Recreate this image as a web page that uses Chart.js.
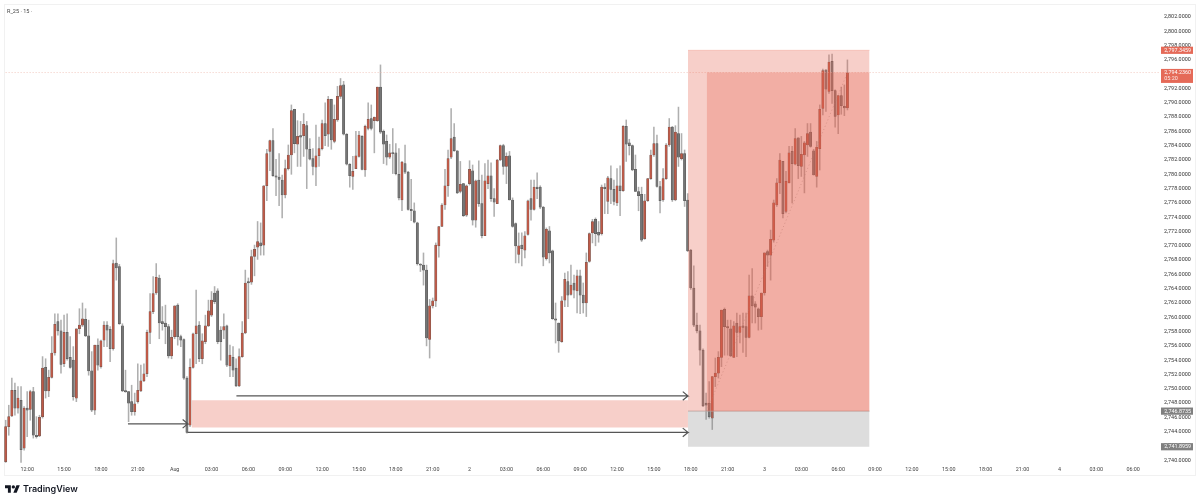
<!DOCTYPE html>
<html><head><meta charset="utf-8">
<style>
html,body{margin:0;padding:0;background:#fff;width:1200px;height:502px;overflow:hidden}
#chart{position:absolute;left:0;top:0;filter:blur(.3px)}
#frame{position:absolute;left:4px;top:4px;width:1190px;height:470px;border:1px solid #f1f1f1}
#title{position:absolute;left:7px;top:8px;font:5.5px Roboto,sans-serif;color:#444;filter:blur(.25px)}
#brand{position:absolute;left:5px;top:483px;display:flex;align-items:center;gap:3px;color:#131722;font:600 9px/12px Inter,sans-serif}
</style>
<script src="https://cdn.jsdelivr.net/npm/chart.js@4"></script>
</head><body>
<div id="frame"></div>
<canvas id="chart" width="1200" height="502"></canvas>
<div id="title">R_25 · 15 ·</div>
<div id="brand"><svg width="15" height="8" viewBox="0 4 36 18"><path fill="#131722" d="M14 22H7V11H0V4h14v18zM28 22h-8l7.5-18h8L28 22z"/><circle fill="#131722" cx="20" cy="8" r="4"/></svg><span>TradingView</span></div>
<script>
const opens=[2739.8,2744.7,2746.2,2749.8,2747.3,2748.4,2741.7,2747.3,2747.1,2749.6,
2743.5,2743.4,2746.1,2753.0,2749.7,2751.6,2755.0,2759.4,2758.1,2753.5,
2757.9,2754.4,2754.0,2748.7,2758.4,2758.9,2759.7,2757.4,2752.5,2747.0,
2756.1,2753.1,2756.8,2758.9,2758.3,2755.6,2767.6,2767.1,2758.8,2749.7,
2749.6,2748.2,2746.8,2748.2,2749.7,2751.1,2752.1,2757.9,2760.8,2763.4,
2765.5,2759.4,2759.2,2758.7,2754.6,2757.3,2761.7,2757.3,2756.9,2751.5,
2744.9,2753.0,2757.7,2758.9,2754.2,2756.6,2758.8,2760.3,2763.4,2763.7,
2758.2,2758.2,2758.8,2753.2,2754.4,2752.9,2750.4,2754.5,2757.8,2765.0,
2764.9,2768.5,2769.8,2770.4,2770.1,2778.4,2783.2,2784.7,2779.8,2779.6,
2779.2,2777.1,2780.8,2782.7,2789.1,2784.2,2785.4,2785.4,2786.8,2783.5,
2782.2,2781.0,2782.6,2783.6,2787.1,2785.6,2790.5,2784.6,2787.6,2790.9,
2792.5,2785.6,2781.4,2779.7,2780.8,2782.5,2785.3,2780.6,2786.4,2787.8,
2787.5,2787.5,2792.2,2786.0,2784.6,2782.4,2783.0,2783.0,2780.0,2776.4,
2781.5,2780.3,2775.1,2774.9,2773.2,2767.4,2767.3,2766.6,2756.9,2761.6,
2762.3,2770.0,2772.7,2775.7,2778.4,2782.4,2785.2,2783.3,2777.6,2778.7,
2774.3,2778.7,2780.5,2773.6,2779.2,2775.9,2771.4,2778.7,2779.8,2776.6,
2775.9,2782.0,2784.0,2781.1,2782.6,2776.4,2773.1,2768.8,2770.1,2769.4,
2771.6,2776.6,2775.1,2778.2,2778.2,2775.4,2768.2,2772.1,2769.3,2759.8,
2759.2,2756.6,2762.4,2765.0,2763.2,2764.8,2763.7,2765.8,2763.1,2762.0,
2767.8,2771.8,2773.7,2771.9,2771.7,2778.2,2776.2,2779.4,2777.9,2776.0,
2778.4,2777.7,2786.7,2784.4,2784.0,2780.7,2777.6,2777.2,2771.0,2776.3,
2779.4,2782.7,2784.3,2778.3,2776.4,2779.4,2784.1,2786.6,2776.4,2785.7,
2782.2,2782.9,2776.4,2769.4,2764.1,2758.9,2758.1,2755.4,2748.0,2748.0,
2745.9,2751.7,2752.2,2754.4,2761.1,2758.7,2758.4,2754.4,2759.2,2757.9,
2758.8,2758.7,2757.2,2763.0,2761.9,2761.2,2760.1,2763.4,2769.2,2768.7,
2770.8,2775.7,2778.8,2781.8,2774.8,2778.8,2783.2,2781.4,2785.1,2781.1,
2782.7,2784.1,2785.9,2783.3,2779.7,2783.6,2789.2,2794.6,2791.6,2795.8,
2791.7,2788.3,2791.0,2789.5,2789.3];
const highs=[2745.6,2747.7,2751.5,2750.8,2750.3,2750.3,2747.5,2749.6,2749.8,2750.2,
2746.1,2746.3,2754.5,2754.2,2752.6,2757.3,2760.5,2760.5,2759.6,2760.3,
2760.5,2757.3,2755.9,2758.4,2761.2,2762.0,2761.2,2759.6,2755.2,2756.1,
2757.0,2756.8,2759.4,2759.4,2758.7,2768.0,2771.1,2767.4,2759.1,2752.6,
2749.6,2750.5,2749.4,2753.5,2753.3,2753.5,2758.2,2763.3,2765.7,2767.5,
2765.9,2761.5,2761.7,2759.0,2758.2,2761.6,2761.9,2757.5,2757.0,2751.7,
2754.2,2757.8,2763.8,2759.4,2757.7,2760.3,2762.4,2763.6,2764.3,2764.0,
2758.7,2760.5,2758.9,2756.1,2755.9,2754.2,2755.6,2759.4,2766.6,2765.5,
2769.4,2770.1,2773.4,2773.2,2778.4,2783.5,2784.8,2786.4,2782.1,2782.9,
2779.9,2782.0,2784.1,2789.7,2789.1,2787.5,2787.4,2788.5,2787.4,2785.0,
2783.6,2786.9,2785.2,2787.6,2790.0,2790.9,2790.5,2789.7,2792.3,2793.4,
2793.0,2785.7,2781.5,2782.5,2786.0,2786.0,2785.4,2786.9,2790.0,2789.7,
2788.0,2792.2,2795.3,2786.2,2785.5,2784.2,2786.4,2784.3,2783.6,2781.8,
2784.1,2780.4,2779.3,2776.0,2773.3,2767.5,2769.0,2767.3,2762.5,2762.7,
2770.4,2772.7,2775.9,2780.7,2783.4,2789.2,2787.1,2783.3,2781.8,2778.7,
2778.5,2781.9,2781.3,2779.2,2781.9,2779.9,2781.5,2782.0,2781.6,2778.0,
2782.1,2784.1,2784.2,2783.0,2783.2,2776.7,2773.2,2771.8,2771.8,2772.0,
2776.4,2779.2,2779.2,2780.2,2778.4,2775.5,2772.5,2772.7,2769.4,2762.0,
2759.2,2762.9,2766.2,2766.4,2767.3,2765.9,2766.6,2766.6,2764.8,2769.0,
2771.8,2773.7,2773.9,2773.4,2778.5,2778.7,2779.7,2781.2,2779.2,2780.8,
2781.2,2786.8,2787.6,2784.9,2784.1,2782.7,2778.2,2778.2,2777.2,2779.4,
2783.4,2786.6,2785.5,2779.0,2780.8,2784.3,2787.8,2786.7,2786.8,2789.4,
2785.7,2783.4,2777.3,2769.5,2767.2,2760.6,2758.9,2755.6,2749.4,2751.0,
2751.7,2754.3,2755.2,2761.0,2761.3,2759.6,2759.6,2759.4,2760.6,2760.3,
2760.6,2760.6,2765.9,2766.8,2762.2,2761.3,2763.4,2769.0,2769.4,2772.2,
2776.4,2779.4,2782.9,2781.8,2780.4,2783.9,2783.9,2786.4,2785.1,2785.3,
2784.6,2787.1,2787.1,2783.5,2784.6,2789.7,2794.7,2794.6,2796.7,2796.8,
2791.8,2791.0,2792.2,2792.5,2796.0];
const lows=[2739.7,2743.5,2746.1,2746.3,2746.6,2739.7,2741.4,2743.3,2745.6,2743.1,
2743.1,2743.3,2745.9,2748.7,2748.9,2751.5,2754.7,2757.5,2752.2,2753.1,
2754.0,2752.9,2748.4,2748.2,2757.7,2758.7,2757.3,2751.9,2746.8,2746.4,
2752.6,2752.9,2755.9,2755.9,2753.8,2755.4,2765.2,2759.0,2749.6,2749.5,
2745.4,2746.3,2746.3,2748.0,2749.6,2751.0,2751.7,2756.3,2760.5,2763.2,
2757.0,2758.2,2756.3,2754.3,2754.2,2757.0,2756.1,2755.9,2751.3,2743.8,
2744.7,2752.9,2753.5,2753.8,2753.5,2756.3,2758.7,2760.1,2761.9,2756.3,
2754.0,2757.0,2753.1,2751.7,2751.7,2750.3,2750.3,2754.4,2757.7,2759.8,
2764.6,2765.8,2768.1,2768.7,2768.7,2776.3,2780.5,2779.7,2777.0,2775.6,
2773.9,2776.7,2780.6,2780.0,2783.0,2781.1,2781.1,2782.5,2778.0,2782.0,
2779.9,2778.4,2781.1,2783.4,2784.0,2783.9,2783.5,2784.4,2787.4,2790.6,
2785.5,2781.3,2778.2,2777.9,2780.8,2782.4,2780.6,2779.7,2786.2,2786.2,
2783.0,2787.4,2785.7,2781.5,2781.3,2782.2,2780.1,2779.9,2776.4,2774.9,
2780.1,2775.0,2773.5,2773.2,2767.3,2766.4,2764.5,2756.0,2754.3,2761.3,
2761.5,2768.4,2772.7,2775.1,2776.9,2782.2,2783.2,2777.3,2777.4,2774.1,
2774.1,2778.5,2772.9,2772.6,2775.5,2771.1,2771.4,2778.0,2776.2,2774.1,
2775.9,2781.9,2780.0,2778.7,2776.4,2772.6,2767.6,2767.6,2767.2,2768.3,
2771.5,2773.6,2775.0,2776.6,2775.2,2767.2,2768.0,2767.6,2759.7,2756.4,
2755.1,2756.5,2761.5,2761.5,2763.1,2762.7,2760.6,2760.5,2760.6,2760.1,
2767.7,2770.4,2770.0,2770.5,2771.5,2774.5,2774.5,2775.9,2775.7,2775.6,
2774.2,2777.6,2781.8,2782.7,2780.5,2777.6,2774.9,2770.6,2770.9,2776.2,
2779.3,2782.5,2778.2,2774.6,2776.2,2779.3,2783.9,2776.2,2776.3,2781.1,
2782.0,2775.5,2769.2,2763.9,2758.7,2757.8,2753.3,2747.5,2745.7,2745.9,
2744.3,2750.3,2751.5,2753.1,2754.7,2754.7,2754.5,2754.4,2754.5,2756.4,
2755.1,2754.5,2757.1,2759.2,2759.2,2758.2,2758.3,2763.1,2767.1,2765.2,
2770.5,2775.5,2777.3,2773.9,2774.6,2778.8,2776.0,2781.3,2779.4,2779.7,
2777.4,2782.5,2783.8,2779.9,2778.2,2780.6,2788.3,2788.8,2791.3,2789.9,
2786.6,2785.7,2788.4,2788.2,2789.0];
const closes=[2744.7,2746.1,2749.8,2747.3,2748.7,2741.5,2747.3,2747.0,2749.6,2743.5,
2743.3,2746.0,2752.9,2749.7,2751.6,2755.0,2759.0,2758.1,2753.4,2757.9,
2754.2,2753.0,2748.9,2758.4,2758.9,2759.8,2757.4,2752.5,2747.0,2756.1,
2753.3,2756.7,2758.9,2758.2,2755.6,2767.5,2766.9,2759.1,2749.7,2749.6,
2748.0,2746.8,2747.9,2749.8,2751.1,2752.1,2757.9,2760.8,2763.3,2765.6,
2759.2,2759.1,2758.7,2754.6,2757.2,2761.6,2757.3,2756.8,2751.5,2743.9,
2753.0,2757.7,2758.8,2754.2,2756.7,2758.8,2760.9,2762.4,2762.2,2756.6,
2756.6,2758.7,2753.3,2754.7,2752.6,2750.4,2754.5,2757.8,2764.8,2764.8,
2768.5,2769.5,2770.6,2770.0,2778.4,2782.9,2784.7,2779.8,2779.6,2779.3,
2777.1,2780.8,2782.7,2788.9,2784.3,2785.3,2785.2,2787.0,2783.5,2782.1,
2781.1,2782.6,2783.6,2787.1,2785.4,2790.5,2784.8,2787.7,2790.9,2792.4,
2785.6,2781.4,2779.8,2780.4,2782.6,2785.5,2780.7,2786.7,2787.7,2786.4,
2788.0,2792.2,2785.9,2784.2,2782.4,2783.0,2782.9,2780.1,2776.7,2781.7,
2780.3,2775.1,2774.9,2773.3,2767.5,2767.3,2766.6,2757.1,2761.6,2762.3,
2770.1,2772.7,2775.7,2778.4,2782.2,2785.0,2783.3,2777.4,2778.6,2774.2,
2778.4,2780.7,2773.6,2779.1,2775.9,2771.4,2779.1,2779.8,2776.6,2776.1,
2782.0,2784.0,2781.1,2782.5,2776.4,2772.7,2770.0,2770.0,2769.6,2771.4,
2776.3,2775.1,2778.2,2778.0,2775.4,2768.4,2772.3,2769.0,2759.8,2759.6,
2756.7,2762.3,2765.3,2763.1,2764.5,2763.8,2765.8,2763.1,2762.0,2767.7,
2771.7,2773.4,2771.7,2771.5,2778.2,2778.0,2779.5,2777.9,2776.2,2778.4,
2777.7,2786.7,2784.2,2784.0,2780.6,2777.6,2777.0,2770.8,2776.3,2779.4,
2782.7,2784.3,2778.3,2776.3,2779.4,2784.1,2786.6,2776.4,2785.9,2782.4,
2782.9,2776.3,2769.3,2764.1,2758.9,2758.1,2755.4,2747.6,2747.7,2746.1,
2751.7,2752.2,2754.4,2761.0,2758.7,2758.5,2754.6,2758.8,2757.9,2758.7,
2758.6,2757.2,2763.0,2761.6,2761.4,2760.1,2763.4,2769.0,2768.7,2770.9,
2776.0,2778.8,2782.0,2774.5,2779.0,2783.0,2781.5,2785.0,2781.2,2782.8,
2784.4,2785.7,2783.9,2779.9,2783.8,2789.1,2794.5,2791.9,2795.7,2791.7,
2788.1,2791.0,2789.6,2789.3,2794.2];

const timeLabels=['12:00','15:00','18:00','21:00','Aug','03:00','06:00','09:00','12:00','15:00','18:00','21:00','2','03:00','06:00','09:00','12:00','15:00','18:00','21:00','3','03:00','06:00','09:00','12:00','15:00','18:00','21:00','4','03:00','06:00'];
const firstTickBar=7, barsPerTick=12;

const stopPrice=2741.8959, entryPrice=2746.8735, targetPrice=2797.3459, lastPrice=2794.2360;
const toolStartBar=222.1, fillStartBar=228.2, toolEndBar=281.2;
const zoneTop=2748.4, zoneBottom=2744.6, zoneStartBar=60.5;
const arrowLevels=[2745.1,2749.0,2743.9];
const arrowStarts=[39.8,75.1,59.2];
const arrowEnds=[59.3,222.1,222.1];
const countdown='05:20';

const RED='#bf5a48', GREY='#767676';
const idx=opens.map((_,i)=>i);
const fmt=v=>v.toLocaleString('en-US',{minimumFractionDigits:4,maximumFractionDigits:4});

function box(x0,x1,top,bottom,fillColor,edge){
  return {type:'line',order:1,data:[{x:x0,y:top},{x:x1,y:top}],fill:{value:bottom},backgroundColor:fillColor,
    borderColor:edge||'rgba(0,0,0,0)',borderWidth:edge?0.8:0,pointRadius:0,tension:0};
}
function arrow(i){
  const a=arrowStarts[i],b=arrowEnds[i],p=arrowLevels[i];
  return {type:'line',order:0,data:[{x:a,y:p},{x:b,y:p},{x:b-1.7,y:p+.6},{x:b,y:p},{x:b-1.7,y:p-.6}],
    borderColor:'#565656',borderWidth:1.2,pointRadius:0,fill:false,tension:0};
}

const badgePlugin={id:'badges',afterDraw(c){
  const g=c.ctx,y=c.scales.y,l=c.chartArea.right+1,w=32;
  const badges=[[targetPrice,'#e56a58',null],[lastPrice,'#e56a58',countdown],[entryPrice,'#808080',null],[stopPrice,'#808080',null]];
  g.save();g.font='5.4px Roboto,sans-serif';g.textBaseline='middle';g.textAlign='left';
  for(const [v,col,sub] of badges){
    const py=y.getPixelForValue(v);
    g.fillStyle=col;
    if(sub){g.fillRect(l,py-3.6,w,14);}else{g.fillRect(l,py-3.6,w,7.2);}
    g.fillStyle='#fff';g.fillText(fmt(v),l+3.3,py+.2);
    if(sub){g.fillStyle='rgba(255,255,255,.85)';g.fillText(sub,l+3.3,py+6.4);}
  }
  g.restore();
}};

new Chart(document.getElementById('chart'),{
  type:'bar',
  data:{datasets:[
    box(toolStartBar,toolEndBar,targetPrice,entryPrice,'rgba(228,96,76,.3)','rgba(228,96,76,.3)'),
    box(fillStartBar,toolEndBar,lastPrice,entryPrice,'rgba(228,96,76,.3)'),
    box(toolStartBar,toolEndBar,entryPrice,stopPrice,'rgba(120,120,120,.25)','#adadad'),
    box(zoneStartBar,toolStartBar,zoneTop,zoneBottom,'rgba(228,96,76,.3)'),
    {type:'line',order:2,data:[{x:-1,y:lastPrice},{x:400,y:lastPrice}],borderColor:'#efbcb3',borderWidth:.8,borderDash:[1,2],pointRadius:0,fill:false},
    {type:'line',order:1,data:[{x:fillStartBar,y:entryPrice},{x:opens.length-1,y:closes[opens.length-1]}],borderColor:'rgba(140,140,140,.6)',borderWidth:.8,borderDash:[1,2.5],pointRadius:0,fill:false},
    arrow(0),arrow(1),arrow(2),
    {type:'bar',order:5,grouped:false,barThickness:.9,data:idx.map(i=>({x:i,y:[lows[i],highs[i]]})),
      backgroundColor:'rgba(110,110,110,.55)',borderWidth:0},
    {type:'bar',order:4,grouped:false,barThickness:2.3,minBarLength:1,borderSkipped:false,borderWidth:.5,
      data:idx.map(i=>({x:i,y:[opens[i],closes[i]]})),
      backgroundColor:idx.map(i=>closes[i]>=opens[i]?RED:GREY),
      borderColor:idx.map(i=>closes[i]>=opens[i]?'#6a5650':'#555555')}
  ]},
  plugins:[badgePlugin],
  options:{
    responsive:false,animation:false,devicePixelRatio:1,
    layout:{padding:{left:4,top:4,right:0,bottom:27}},
    plugins:{legend:{display:false},tooltip:{enabled:false}},
    scales:{
      x:{type:'linear',min:-0.55,max:375.75,offset:false,
        grid:{display:false,drawTicks:false},border:{display:false},
        afterBuildTicks(s){s.ticks=timeLabels.map((_,k)=>({value:firstTickBar+barsPerTick*k}));},
        afterFit(s){s.height=11;s.paddingLeft=0;s.paddingRight=0;},
        ticks:{autoSkip:false,maxRotation:0,padding:2,color:'#444',font:{family:'Roboto',size:5.4},
          callback(v){return timeLabels[Math.round((v-firstTickBar)/barsPerTick)];}}},
      y:{type:'linear',position:'right',min:2739.48,max:2803.82,
        grid:{display:false,drawTicks:false},border:{display:false},
        afterFit(s){s.width=40;s.paddingTop=0;s.paddingBottom=0;},
        ticks:{stepSize:2,includeBounds:false,padding:4,color:'#333',font:{family:'Roboto',size:5.4},autoSkip:false,
          callback(v){return fmt(v);}}}
    }
  }
});
</script>
</body></html>
